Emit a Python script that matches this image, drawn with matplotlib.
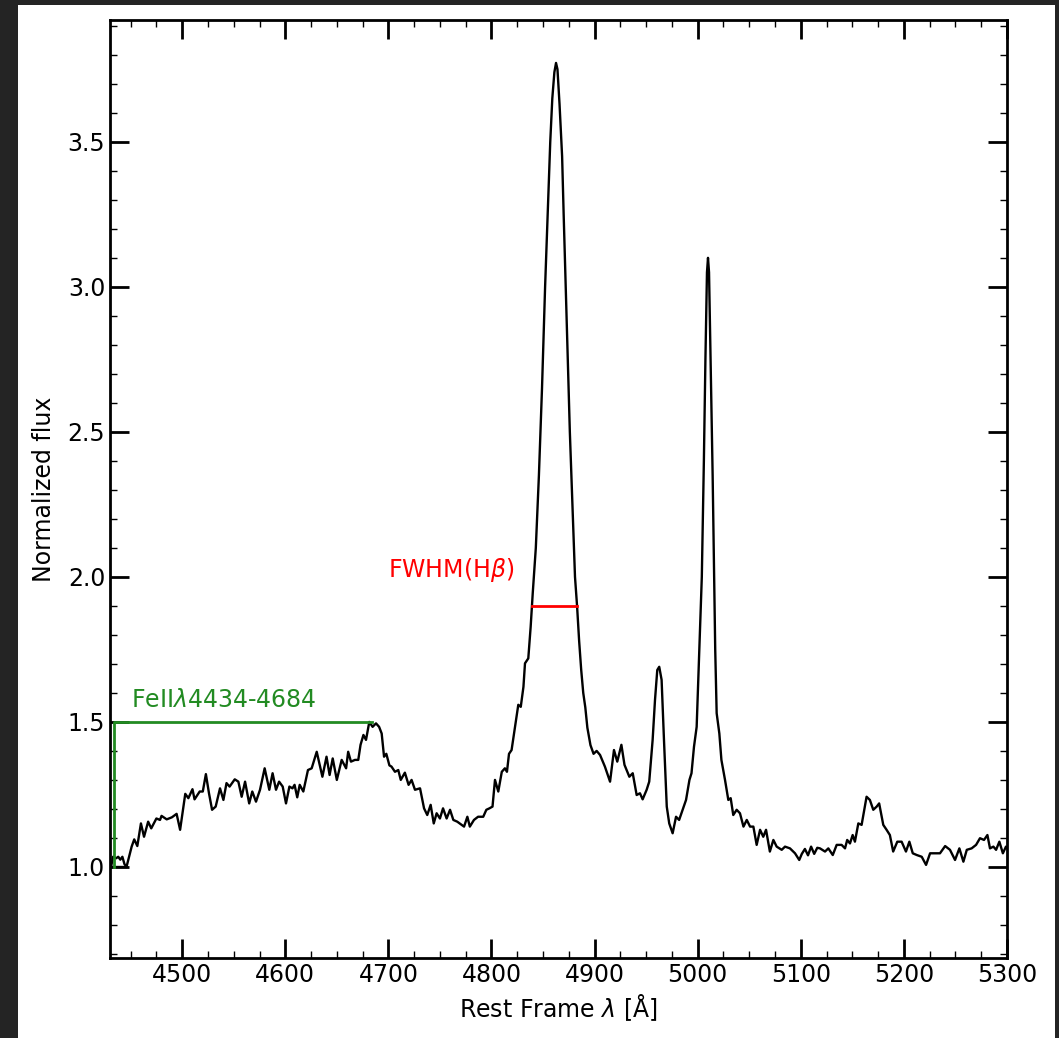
import matplotlib
matplotlib.use("Agg")
import matplotlib.pyplot as plt
import numpy as np
from matplotlib.ticker import MultipleLocator
from matplotlib.patches import Rectangle

# Rest-frame spectrum (wavelength in Angstrom, normalized flux)
wave = [
    4431, 4433, 4436, 4438, 4440, 4442, 4444, 4446, 4451, 4453.5, 4456.5, 4460, 4463, 4467,
    4470, 4475, 4478.5, 4480, 4485, 4490, 4494.6, 4498, 4503, 4506, 4510, 4512, 4517, 4520,
    4523, 4526, 4529, 4532.5, 4536.7, 4540, 4543, 4546, 4551, 4554.5, 4557.7, 4561, 4565,
    4568, 4571.6, 4575.5, 4580, 4584.5, 4587.7, 4591, 4594, 4597.5, 4600.7, 4604, 4607,
    4609, 4611.6, 4614, 4617.5, 4622, 4625.6, 4630.5, 4633.7, 4636, 4640, 4643, 4646, 4650,
    4654.7, 4659, 4661, 4663.7, 4667.6, 4670.8, 4673, 4675.8, 4678.3, 4681.5, 4684.7, 4688,
    4691, 4693.5, 4695.8, 4698, 4701, 4703, 4706.4, 4709.6, 4712, 4716, 4719.6, 4722.5,
    4725.8, 4730.7, 4734.6, 4737.7, 4741, 4744, 4746.8, 4750, 4753, 4756.5, 4759.8, 4763,
    4766.8, 4771, 4773.4, 4776.6, 4779, 4783, 4787, 4792, 4795, 4798, 4801, 4803.4, 4806.6,
    4810, 4813, 4815, 4817, 4819.5, 4822.8, 4826, 4828.4, 4831, 4832.5, 4835.7, 4838, 4840,
    4843, 4846, 4849, 4852, 4855, 4857, 4859, 4861, 4862.6, 4864, 4866, 4868.5, 4870, 4872,
    4874, 4876, 4878.5, 4881, 4883, 4885, 4887, 4889, 4891, 4893, 4896, 4899, 4902, 4905.3,
    4910, 4915, 4918.8, 4922, 4926, 4929, 4933.7, 4937, 4940.8, 4944, 4946.6, 4950.5, 4953,
    4956.3, 4958.6, 4960.8, 4962.7, 4965, 4967.3, 4970, 4972.4, 4975.7, 4979, 4982, 4985.4,
    4988.7, 4992, 4994, 4996.4, 4999, 5001.6, 5004, 5006, 5007.5, 5009, 5010, 5011, 5012.5,
    5014.5, 5016, 5017, 5018.4, 5021, 5023, 5026.5, 5029.7, 5032, 5034.5, 5037.8, 5041,
    5044.4, 5047.6, 5050.8, 5054, 5057.2, 5060.5, 5063.6, 5066.3, 5070, 5073.4, 5076.6,
    5081.5, 5084.7, 5089.5, 5094.4, 5098.5, 5101, 5104, 5107, 5110, 5113, 5116, 5118.6,
    5123.5, 5126.7, 5131,
    5134.8, 5139.6, 5142.9, 5145, 5147.7, 5150.3, 5152.5, 5155.8, 5159, 5163.8, 5167,
    5170.3, 5173.6, 5176, 5180, 5183.2, 5186.4, 5189.6, 5193.6, 5197.8, 5202, 5205.3,
    5208.6, 5212.5, 5217.3, 5221.5, 5225.4, 5230.2, 5235, 5240, 5244.7, 5249.6, 5253.8,
    5257.7, 5261, 5265.7, 5270, 5273.8, 5277.7, 5281, 5283.5, 5286.8, 5289.4, 5292.6, 5296,
    5299, 5301,
]
flux = [
    1.00, 1.035, 1.03, 1.035, 1.025, 1.035, 1.01, 1.0, 1.07, 1.095, 1.072, 1.15, 1.104, 1.156,
    1.133, 1.167, 1.162, 1.176, 1.164, 1.171, 1.183, 1.128, 1.252, 1.237, 1.268, 1.233, 1.26, 1.26,
    1.32, 1.254, 1.197, 1.208, 1.271, 1.231, 1.289, 1.277, 1.302, 1.294, 1.242, 1.294, 1.219,
    1.26, 1.225, 1.266, 1.34, 1.266, 1.323, 1.266, 1.294, 1.277, 1.219, 1.277, 1.271,
    1.283, 1.24, 1.283, 1.26, 1.334, 1.34, 1.397, 1.346, 1.311, 1.38, 1.317, 1.374, 1.30,
    1.369, 1.34, 1.397, 1.363, 1.369, 1.369, 1.421, 1.455, 1.438, 1.50, 1.483, 1.495,
    1.483, 1.46, 1.38, 1.39, 1.35, 1.346, 1.328, 1.334, 1.30, 1.325, 1.283, 1.30,
    1.266, 1.271, 1.202, 1.179, 1.214, 1.15, 1.185, 1.167, 1.202, 1.167, 1.197, 1.162,
    1.156, 1.145, 1.139, 1.173, 1.139, 1.162, 1.173, 1.173, 1.197, 1.202, 1.208, 1.30, 1.26,
    1.328, 1.34, 1.328, 1.39, 1.403, 1.483, 1.559, 1.552, 1.621, 1.702, 1.719, 1.828, 1.943,
    2.10, 2.35, 2.65, 3.00, 3.30, 3.50, 3.65, 3.74, 3.772, 3.75, 3.63, 3.45, 3.25, 3.00,
    2.75, 2.50, 2.25, 2.00, 1.90, 1.78, 1.68, 1.60, 1.55, 1.48, 1.42, 1.39, 1.40, 1.386,
    1.346, 1.294, 1.403, 1.363, 1.421, 1.352, 1.311, 1.323, 1.248, 1.254, 1.233, 1.266, 1.294,
    1.438, 1.576, 1.679, 1.69, 1.645, 1.438, 1.208, 1.15, 1.116, 1.173, 1.162, 1.197,
    1.231, 1.30, 1.323, 1.414, 1.483, 1.748, 2.00, 2.40, 2.75, 3.05, 3.10, 3.05, 2.75,
    2.35, 2.00, 1.75, 1.53, 1.46, 1.369, 1.30, 1.231, 1.237, 1.179, 1.197, 1.185,
    1.139, 1.162, 1.139, 1.139, 1.076, 1.128, 1.104, 1.128, 1.053, 1.093, 1.07,
    1.059, 1.07, 1.064, 1.047, 1.024, 1.045, 1.062, 1.04, 1.07, 1.045, 1.066, 1.064,
    1.053, 1.064, 1.041,
    1.076, 1.076, 1.064, 1.093, 1.081, 1.11, 1.087, 1.15, 1.145, 1.242, 1.231,
    1.197, 1.208, 1.219, 1.145, 1.128, 1.11, 1.053, 1.087, 1.087, 1.053, 1.087,
    1.047, 1.041, 1.035, 1.007, 1.047, 1.047, 1.047, 1.072, 1.059, 1.024, 1.064,
    1.018, 1.059, 1.064, 1.076, 1.099, 1.093, 1.11, 1.064, 1.07, 1.059, 1.087, 1.047,
    1.07, 1.06,
]

# annotations
feii_range = [4434, 4684]
feii_level = [1.0, 1.5]
fwhm_range = [4839, 4883]
fwhm_level = 1.9

fig = plt.figure(figsize=(10.59, 10.38), dpi=100, facecolor="#242424")
# white page on the dark backdrop
fig.patches.append(Rectangle((18 / 1059, 0), (1055 - 18) / 1059, 1 - 5 / 1038,
                             transform=fig.transFigure, facecolor="white",
                             edgecolor="none", zorder=-10))
ax = fig.add_axes([110 / 1059, 80 / 1038, 897 / 1059, 938 / 1038])
ax.set_facecolor("white")

ax.plot(wave, flux, color="black", lw=1.7)
ax.plot([wave[0], 4446], [1.0, 1.0], color="black", lw=1.7)

# FeII window
ax.plot([feii_range[0], feii_range[0], feii_range[1]],
        [feii_level[0], feii_level[1], feii_level[1]], color="forestgreen", lw=2)
ax.text(4450, 1.55, r"FeII$\lambda$4434-4684", color="forestgreen", fontsize=17)

# FWHM of H beta
ax.plot(fwhm_range, [fwhm_level, fwhm_level], color="red", lw=2)
ax.text(4700, 2.0, r"FWHM(H$\beta$)", color="red", fontsize=17)

ax.set_xlim(4430, 5300)
ax.set_ylim(0.686, 3.92)
ax.xaxis.set_major_locator(MultipleLocator(100))
ax.xaxis.set_minor_locator(MultipleLocator(25))
ax.yaxis.set_major_locator(MultipleLocator(0.5))
ax.yaxis.set_minor_locator(MultipleLocator(0.1))
ax.tick_params(which="both", direction="in", top=True, right=True, labelsize=17)
ax.tick_params(which="major", length=14, width=2)
ax.tick_params(which="minor", length=5, width=1)
for s in ax.spines.values():
    s.set_linewidth(2)

ax.set_xlabel(r"Rest Frame $\lambda$ [$\rm\AA$]", fontsize=17)
ax.set_ylabel("Normalized flux", fontsize=17, labelpad=8)

fig.savefig("out.png", dpi=100, facecolor=fig.get_facecolor())
